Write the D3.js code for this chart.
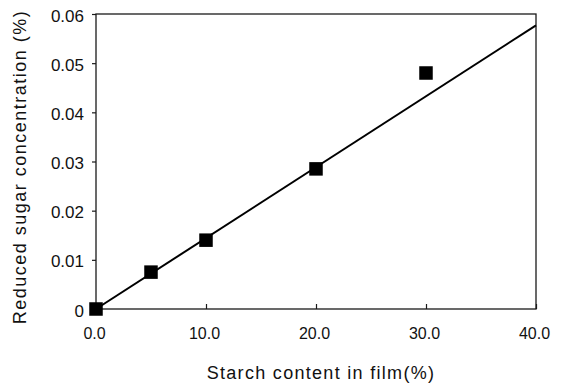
<!DOCTYPE html>
<html>
<head>
<meta charset="utf-8">
<script src="https://cdn.jsdelivr.net/npm/d3@7"></script>
<style>
  html, body { margin: 0; padding: 0; background: #fff; }
  svg { display: block; }
  text { font-family: "Liberation Sans", Arial, sans-serif; fill: #111; }
</style>
</head>
<body>
<svg id="chart" width="561" height="386"></svg>
<script>
// Starch content (%) and measured reduced sugar concentration (%)
const starchContent = [0, 5, 10, 20, 30];
const sugarConcentration = [0, 0.0075, 0.014, 0.0285, 0.048];

// Linear fit line endpoints
const fitX = [0, 40];
const fitY = [0, 0.0577];

// Axis ticks and labels
const xTicks = [0, 10, 20, 30, 40];
const xTickLabels = ["0.0", "10.0", "20.0", "30.0", "40.0"];
const yTicks = [0, 0.01, 0.02, 0.03, 0.04, 0.05, 0.06];
const yTickLabels = ["0", "0.01", "0.02", "0.03", "0.04", "0.05", "0.06"];

const xTitle = "Starch content in film(%)";
const yTitle = "Reduced sugar concentration (%)";

const svg = d3.select("#chart");
const m = { left: 96, right: 536, top: 14, bottom: 309 };

const x = d3.scaleLinear().domain([0, 40]).range([m.left, m.right]);
const y = d3.scaleLinear().domain([0, 0.06]).range([m.bottom, m.top]);

const ink = "#1a1a1a";

// Frame
svg.append("rect")
  .attr("x", m.left).attr("y", m.top)
  .attr("width", m.right - m.left).attr("height", m.bottom - m.top)
  .attr("fill", "none").attr("stroke", ink).attr("stroke-width", 1.3);

// Y axis: short outward ticks
const yAxis = d3.axisLeft(y)
  .tickValues(yTicks)
  .tickSize(4)
  .tickPadding(8)
  .tickFormat((d, i) => yTickLabels[i]);
const gy = svg.append("g").attr("transform", `translate(${m.left},0)`).call(yAxis);
gy.select(".domain").remove();
gy.selectAll("line").attr("stroke", ink).attr("stroke-width", 1.2);
gy.selectAll("text")
  .attr("dy", "0.42em")
  .style("font-size", "17px")
  .attr("fill", "#111");

// X axis: inward ticks
const xAxis = d3.axisBottom(x)
  .tickValues(xTicks)
  .tickSize(-5)
  .tickPadding(19)
  .tickFormat((d, i) => xTickLabels[i]);
const gx = svg.append("g").attr("transform", `translate(0,${m.bottom})`).call(xAxis);
gx.select(".domain").remove();
gx.selectAll("line").attr("stroke", ink).attr("stroke-width", 1.2);
gx.selectAll("text")
  .attr("dx", -2)
  .style("font-size", "16px")
  .attr("fill", "#111");

// Fit line
const line = d3.line().x(d => x(d[0])).y(d => y(d[1]));
svg.append("path")
  .datum(d3.zip(fitX, fitY))
  .attr("d", line)
  .attr("fill", "none")
  .attr("stroke", "#000")
  .attr("stroke-width", 2);

// Square markers
const size = 13.5;
svg.append("g").selectAll("rect")
  .data(d3.zip(starchContent, sugarConcentration))
  .join("rect")
  .attr("x", d => x(d[0]) - size / 2)
  .attr("y", d => y(d[1]) - size / 2)
  .attr("width", size)
  .attr("height", size)
  .attr("fill", "#000");

// Axis titles
svg.append("text")
  .attr("x", 321).attr("y", 379)
  .attr("text-anchor", "middle")
  .style("font-size", "18px")
  .style("letter-spacing", "1.3px")
  .text(xTitle);

svg.append("text")
  .attr("transform", "translate(26,167) rotate(-90)")
  .attr("text-anchor", "middle")
  .style("font-size", "18px")
  .style("letter-spacing", "1.5px")
  .text(yTitle);
</script>
</body>
</html>
